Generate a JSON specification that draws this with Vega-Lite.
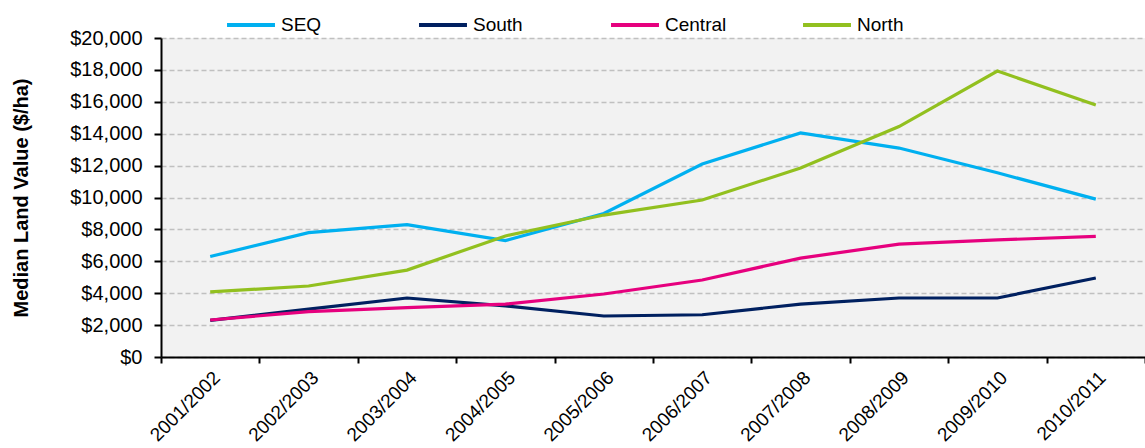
{
  "$schema": "https://vega.github.io/schema/vega-lite/v6.json",
  "autosize": {"type": "none"},
  "width": 984,
  "height": 319,
  "padding": {"left": 161, "top": 38, "right": 0, "bottom": 91},
  "background": "white",
  "config": {
    "font": "Liberation Sans",
    "view": {"fill": "#f2f2f2", "stroke": null},
    "axis": {"labelFont": "Liberation Sans", "titleFont": "Liberation Sans", "labelColor": "#000000", "titleColor": "#000000"},
    "legend": {"labelFont": "Liberation Sans", "labelColor": "#000000"}
  },
  "data": {
    "values": [
      {"year": "2001/2002", "region": "SEQ", "value": 6300},
      {"year": "2002/2003", "region": "SEQ", "value": 7800},
      {"year": "2003/2004", "region": "SEQ", "value": 8300},
      {"year": "2004/2005", "region": "SEQ", "value": 7300},
      {"year": "2005/2006", "region": "SEQ", "value": 9000},
      {"year": "2006/2007", "region": "SEQ", "value": 12100},
      {"year": "2007/2008", "region": "SEQ", "value": 14050},
      {"year": "2008/2009", "region": "SEQ", "value": 13100},
      {"year": "2009/2010", "region": "SEQ", "value": 11550},
      {"year": "2010/2011", "region": "SEQ", "value": 9900},
      {"year": "2001/2002", "region": "South", "value": 2300},
      {"year": "2002/2003", "region": "South", "value": 3000},
      {"year": "2003/2004", "region": "South", "value": 3700},
      {"year": "2004/2005", "region": "South", "value": 3200},
      {"year": "2005/2006", "region": "South", "value": 2570},
      {"year": "2006/2007", "region": "South", "value": 2650},
      {"year": "2007/2008", "region": "South", "value": 3320},
      {"year": "2008/2009", "region": "South", "value": 3700},
      {"year": "2009/2010", "region": "South", "value": 3700},
      {"year": "2010/2011", "region": "South", "value": 4950},
      {"year": "2001/2002", "region": "Central", "value": 2320},
      {"year": "2002/2003", "region": "Central", "value": 2850},
      {"year": "2003/2004", "region": "Central", "value": 3100},
      {"year": "2004/2005", "region": "Central", "value": 3320},
      {"year": "2005/2006", "region": "Central", "value": 3950},
      {"year": "2006/2007", "region": "Central", "value": 4830},
      {"year": "2007/2008", "region": "Central", "value": 6200},
      {"year": "2008/2009", "region": "Central", "value": 7080},
      {"year": "2009/2010", "region": "Central", "value": 7340},
      {"year": "2010/2011", "region": "Central", "value": 7560},
      {"year": "2001/2002", "region": "North", "value": 4080},
      {"year": "2002/2003", "region": "North", "value": 4450},
      {"year": "2003/2004", "region": "North", "value": 5450},
      {"year": "2004/2005", "region": "North", "value": 7590},
      {"year": "2005/2006", "region": "North", "value": 8900},
      {"year": "2006/2007", "region": "North", "value": 9840},
      {"year": "2007/2008", "region": "North", "value": 11850},
      {"year": "2008/2009", "region": "North", "value": 14450},
      {"year": "2009/2010", "region": "North", "value": 17930},
      {"year": "2010/2011", "region": "North", "value": 15800}
    ]
  },
  "mark": {"type": "line", "strokeWidth": 3.2, "strokeJoin": "miter"},
  "encoding": {
    "x": {
      "field": "year",
      "type": "ordinal",
      "scale": {"type": "band", "paddingInner": 0, "paddingOuter": 0},
      "axis": {
        "title": null,
        "labelAngle": -45,
        "labelAlign": "right",
        "labelBaseline": "top",
        "labelFontSize": 19,
        "labelPadding": 5,
        "tickBand": "extent",
        "tickColor": "#000000",
        "tickSize": 6,
        "tickWidth": 2,
        "domainColor": "#000000",
        "domainWidth": 2,
        "grid": false
      }
    },
    "y": {
      "field": "value",
      "type": "quantitative",
      "scale": {"domain": [0, 20000], "nice": false},
      "axis": {
        "title": "Median Land Value ($/ha)",
        "titleFontSize": 20,
        "titleFontWeight": "bold",
        "titlePadding": 38,
        "format": "$,.0f",
        "values": [0, 2000, 4000, 6000, 8000, 10000, 12000, 14000, 16000, 18000, 20000],
        "labelFontSize": 20,
        "labelPadding": 12,
        "tickColor": "#000000",
        "tickSize": 7,
        "tickWidth": 2,
        "domainColor": "#000000",
        "domainWidth": 2,
        "gridColor": "#c0c0c0",
        "gridDash": [5, 3],
        "gridWidth": 1.5
      }
    },
    "color": {
      "field": "region",
      "type": "nominal",
      "scale": {
        "domain": ["SEQ", "South", "Central", "North"],
        "range": ["#00b0f0", "#002060", "#e6007e", "#92c01f"]
      },
      "legend": {
        "title": null,
        "orient": "none",
        "direction": "horizontal",
        "legendX": 64,
        "legendY": -39,
        "symbolType": "stroke",
        "symbolSize": 2300,
        "symbolStrokeWidth": 4,
        "labelFontSize": 19,
        "labelOffset": 4,
        "columnPadding": 68,
        "gridAlign": "all"
      }
    }
  }
}
